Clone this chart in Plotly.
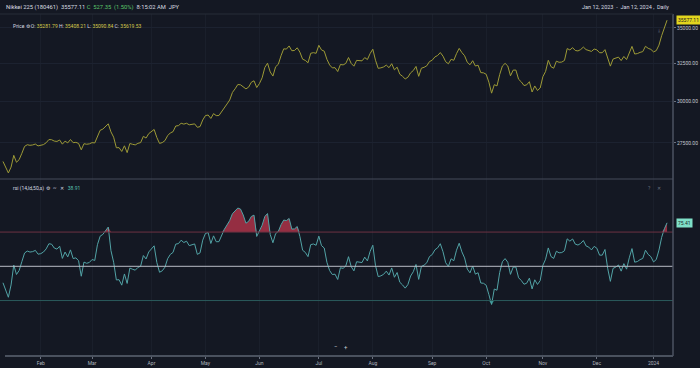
import numpy as np
import pandas as pd
import plotly.graph_objects as go
from plotly.subplots import make_subplots

# ---------------- data ----------------
holidays = ["2023-01-02", "2023-01-03", "2023-01-09", "2023-02-23", "2023-03-21",
            "2023-05-03", "2023-05-04", "2023-05-05", "2023-07-17", "2023-08-11",
            "2023-09-18", "2023-10-09", "2023-11-03", "2023-11-23",
            "2024-01-01", "2024-01-02", "2024-01-03", "2024-01-08"]
dates = [d.strftime("%Y-%m-%d") for d in pd.bdate_range("2023-01-12", "2024-01-12")
         if d.strftime("%Y-%m-%d") not in holidays]

# closes before the visible window (RSI warm-up only)
warmup_close = [28226, 27777, 27820, 27885, 27686, 27574, 27901, 27842, 27954, 28156,
                28051, 27527, 27237, 26568, 26387, 26507, 26235, 26406, 26447, 26340,
                26093, 26095, 25717, 25820, 25974, 26175, 26446]

close = [
    # Jan
    26449, 26119, 25822, 26138, 26791, 26405, 26553, 26906, 27299, 27395, 27362, 27382, 27433, 27327,
    # Feb
    27346, 27402, 27509, 27693, 27685, 27606, 27584, 27670, 27427, 27602, 27501, 27696, 27513, 27531,
    27473, 27104, 27453, 27423, 27445,
    # Mar
    27516, 27498, 27927, 28237, 28309, 28444, 28623, 28143, 27832, 27222, 27229, 27010, 27333, 26945,
    27466, 27419, 27385, 27476, 27518, 27883, 27782, 28041,
    # Apr
    28188, 28287, 27813, 27472, 27518, 27633, 27923, 28082, 28157, 28493, 28514, 28658, 28606, 28657,
    28564, 28593, 28620, 28416, 28457, 28856,
    # May
    29123, 29157, 28949, 29242, 29122, 29126, 29388, 29626, 29842, 30093, 30573, 30808, 31086, 31066,
    30957, 30801, 30916, 31233, 31328, 30887,
    # Jun
    31148, 31524, 32217, 32506, 31913, 31641, 32265, 32434, 33018, 33502, 33485, 33706, 33370, 33388,
    33575, 33264, 32781, 32698, 32538, 33193, 33234, 33189,
    # Jul
    33753, 33422, 33338, 32773, 32388, 32189, 32203, 31943, 32419, 32391, 32493, 32896, 32490, 32304,
    32700, 32682, 32668, 32891, 32759, 33172,
    # Aug
    33476, 32707, 32159, 32192, 32254, 32377, 32204, 32473, 32059, 32238, 31766, 31626, 31450, 31565,
    31856, 32010, 32287, 31624, 32169, 32227, 32333, 32619,
    # Sep
    32710, 32939, 33036, 33241, 32991, 32606, 32467, 32776, 32706, 33168, 33533, 33242, 33023, 32571,
    32402, 32678, 32315, 32371, 31872, 31857,
    # Oct
    31759, 31237, 30526, 31075, 30994, 31746, 32315, 32494, 32315, 31659, 32040, 32042, 31430, 31259,
    31019, 31062, 31269, 30601, 30991, 30696, 30858,
    # Nov
    31601, 31950, 32708, 32271, 32166, 32646, 32568, 32585, 32695, 33519, 33424, 33585, 33388, 33354,
    33451, 33625, 33447, 33408, 33321, 33486,
    # Dec
    33431, 33231, 33231, 33445, 32858, 32307, 32791, 32843, 32926, 32686, 32970, 32758, 33219, 33675,
    33141, 33169, 33255, 33306, 33681, 33539, 33464,
    # Jan 2024
    33288, 33377, 33763, 34441, 35049, 35577.11,
]

month_ticks = ["2023-02-01", "2023-03-01", "2023-04-03", "2023-05-01", "2023-06-01", "2023-07-03",
               "2023-08-01", "2023-09-01", "2023-10-02", "2023-11-01", "2023-12-01", "2024-01-04"]
month_labels = ["Feb", "Mar", "Apr", "May", "Jun", "Jul", "Aug", "Sep", "Oct", "Nov", "Dec", "2024"]
price_ticks = [27500, 30000, 32500, 35000]
rsi_period = 14
rsi_upper, rsi_mid, rsi_lower = 70, 50, 30

# ---------------- RSI (Wilder) ----------------
allc = np.array(warmup_close + close, dtype=float)
d = np.diff(allc)
g = np.where(d > 0, d, 0.0)
l = np.where(d < 0, -d, 0.0)
ag = g[:rsi_period].mean()
al = l[:rsi_period].mean()
rsi_all = [np.nan] * (rsi_period + 1)
rsi_all[-1] = 100 - 100 / (1 + ag / al)
for i in range(rsi_period, len(d)):
    ag = (ag * (rsi_period - 1) + g[i]) / rsi_period
    al = (al * (rsi_period - 1) + l[i]) / rsi_period
    rsi_all.append(100 - 100 / (1 + ag / al))
rsi = np.array(rsi_all[len(warmup_close):])

# ---------------- figure ----------------
BG = "#141823"
W, H = 700, 368
ML, MR, MT, MB = 0, 27, 14, 12
plot_h = H - MT - MB
split = (356 - 179) / plot_h

fig = make_subplots(rows=2, cols=1, shared_xaxes=True, vertical_spacing=0,
                    row_heights=[1 - split, split])

fig.add_trace(go.Scatter(x=dates, y=close, mode="lines",
                         line=dict(color="#9d9a36", width=1), hoverinfo="skip"), row=1, col=1)

# RSI fills
upper = np.maximum(rsi, rsi_upper)
lower = np.minimum(rsi, rsi_lower)
fig.add_trace(go.Scatter(x=dates, y=[rsi_upper] * len(dates), mode="lines",
                         line=dict(width=0), hoverinfo="skip"), row=2, col=1)
fig.add_trace(go.Scatter(x=dates, y=upper, mode="lines", line=dict(width=0),
                         fill="tonexty", fillcolor="rgba(172,50,72,0.85)", hoverinfo="skip"), row=2, col=1)
fig.add_trace(go.Scatter(x=dates, y=[rsi_lower] * len(dates), mode="lines",
                         line=dict(width=0), hoverinfo="skip"), row=2, col=1)
fig.add_trace(go.Scatter(x=dates, y=lower, mode="lines", line=dict(width=0),
                         fill="tonexty", fillcolor="rgba(40,150,140,0.8)", hoverinfo="skip"), row=2, col=1)
fig.add_trace(go.Scatter(x=dates, y=rsi, mode="lines",
                         line=dict(color="#52a3a6", width=1), hoverinfo="skip"), row=2, col=1)

for lvl, col in [(rsi_upper, "#6c3243"), (rsi_mid, "#b9bdc6"), (rsi_lower, "#2b5a5b")]:
    fig.add_shape(type="line", xref="paper", x0=0, x1=1, yref="y2", y0=lvl, y1=lvl,
                  line=dict(color=col, width=1))

n = len(dates)
xr = [-1.1, n + 1.2]
fig.update_xaxes(type="category", range=xr, showgrid=True, gridcolor="#1a1f2b",
                 tickvals=month_ticks, ticktext=month_labels, showline=False, zeroline=False)
fig.update_xaxes(row=2, col=1, ticks="outside", ticklen=2, tickcolor="#6b7180",
                 tickfont=dict(size=5, color="#aeb3bd"), showticklabels=True)
fig.update_xaxes(row=1, col=1, showticklabels=False, ticks="")

lo, hi = np.log10(25494), np.log10(36043)
fig.update_yaxes(row=1, col=1, type="log", range=[lo, hi], side="right",
                 tickvals=price_ticks, ticktext=[f"{v:.2f}" for v in price_ticks],
                 tickfont=dict(size=5, color="#c4c8d0"), ticks="outside", ticklen=2,
                 tickcolor="#6b7180", showgrid=True, gridcolor="#1c2230", zeroline=False)
fig.update_yaxes(row=2, col=1, range=[-2.4, 101], side="right", showticklabels=False,
                 showgrid=False, zeroline=False)

# frame lines
fig.add_shape(type="line", xref="paper", yref="paper", x0=0, x1=1, y0=split, y1=split,
              line=dict(color="#444b5a", width=1))
fig.add_shape(type="line", xref="paper", yref="paper", x0=5 / 673, x1=1, y0=0, y1=0,
              line=dict(color="#5d6473", width=1.5))
fig.add_shape(type="line", xref="paper", yref="paper", x0=1, x1=1, y0=0, y1=1,
              line=dict(color="#4b5262", width=1.5))
fig.add_shape(type="line", xref="paper", yref="paper", x0=0, x1=1, y0=1, y1=1,
              line=dict(color="#262c38", width=1))

def py(p):
    return (H - MB - p) / plot_h

F = "Roboto, Arial, sans-serif"
ann = []
ann.append(dict(x=0.006, y=py(7), xref="paper", yref="paper", xanchor="left", yanchor="middle",
                showarrow=False, font=dict(size=5.8, family=F, color="#d8dbe0"),
                text="Nikkei 225 (180461)  35577.11 <span style='color:#5cc46a'>C  527.35  (1.50%)</span>  8:15:02 AM  JPY"))
ann.append(dict(x=0.997, y=py(7), xref="paper", yref="paper", xanchor="right", yanchor="middle",
                showarrow=False, font=dict(size=5.5, family=F, color="#d8dbe0"),
                text="Jan 12, 2023  -  Jan 12, 2024 ,  Daily"))
ann.append(dict(x=0.017, y=py(26), xref="paper", yref="paper", xanchor="left", yanchor="middle",
                showarrow=False, font=dict(size=5, family=F, color="#d8dbe0"),
                text="Price ⚙ O: <span style='color:#d6c94a'>35281.79</span> H: <span style='color:#d6c94a'>35408.21</span> "
                     "L: <span style='color:#d6c94a'>35090.84</span> C: <span style='color:#d6c94a'>35619.53</span>"))
ann.append(dict(x=0.017, y=py(188), xref="paper", yref="paper", xanchor="left", yanchor="middle",
                showarrow=False, font=dict(size=5, family=F, color="#d8dbe0"),
                text="rsi (14,ld,50,s)  ⚙  ~   ✕   <span style='color:#58c0b0'>38.91</span>"))
ann.append(dict(x=653 / 673, y=py(188), xref="paper", yref="paper", showarrow=False,
                font=dict(size=5, family=F, color="#6b7180"), text="?"))
ann.append(dict(x=663 / 673, y=py(188), xref="paper", yref="paper", showarrow=False,
                font=dict(size=5, family=F, color="#6b7180"), text="✕"))
ann.append(dict(x=663 / 673, y=py(25), xref="paper", yref="paper", showarrow=False,
                font=dict(size=5, family=F, color="#6b7180"), text="⤓"))
ann.append(dict(x=335 / 673, y=py(352), xref="paper", yref="paper", showarrow=False,
                font=dict(size=6, family=F, color="#c8ccd4"), text="−"))
ann.append(dict(x=346 / 673, y=py(352), xref="paper", yref="paper", showarrow=False,
                font=dict(size=6, family=F, color="#c8ccd4"), text="+"))
# last value labels
ann.append(dict(x=1.004, y=np.log10(close[-1]), xref="paper", yref="y", xanchor="left",
                yanchor="middle", showarrow=False, bgcolor="#e2d51e", borderpad=1,
                font=dict(size=5, family=F, color="#222222"), text=f"{close[-1]:.2f}"))
ann.append(dict(x=1.004, y=rsi[-1], xref="paper", yref="y2", xanchor="left",
                yanchor="middle", showarrow=False, bgcolor="#7fe0c8", borderpad=1,
                font=dict(size=5, family=F, color="#1a2a2a"), text=f"{rsi[-1]:.2f}"))

fig.update_layout(width=W, height=H, margin=dict(l=ML, r=MR, t=MT, b=MB),
                  paper_bgcolor=BG, plot_bgcolor=BG, showlegend=False,
                  annotations=ann, font=dict(family=F))

fig.write_html("out.html", config={"displayModeBar": False},
               post_script="document.body.style.margin='0';document.body.style.background='#141823';")
